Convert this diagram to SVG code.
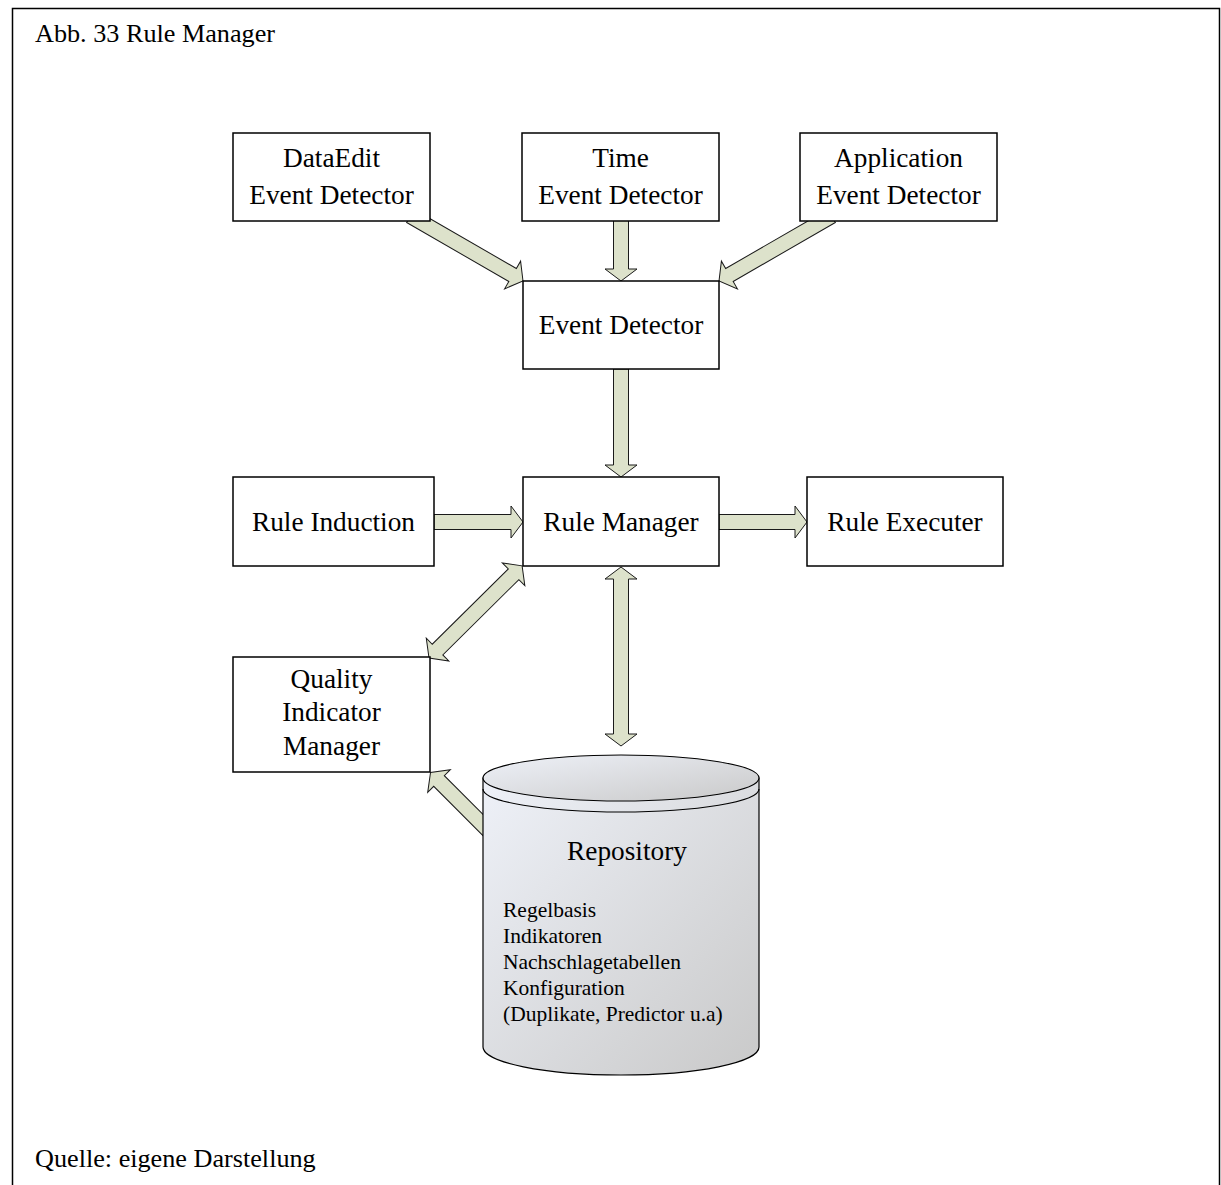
<svg xmlns="http://www.w3.org/2000/svg" width="1221" height="1185" viewBox="0 0 1221 1185">
<defs>
<linearGradient id="cyl" x1="0" y1="0" x2="1" y2="1">
<stop offset="0" stop-color="#eef1f8"/>
<stop offset="1" stop-color="#c9c9c9"/>
</linearGradient>
<style>
.box{fill:#fff;stroke:#000;stroke-width:1.5}
.arr{fill:#dde2cb;stroke:#1a1a1a;stroke-width:1}
.t{font-family:"Liberation Serif","Times New Roman",serif;font-size:27.3px;fill:#000;text-anchor:middle}
.cap{font-family:"Liberation Serif","Times New Roman",serif;font-size:26.2px;fill:#000}
.lst{font-family:"Liberation Serif","Times New Roman",serif;font-size:21.5px;fill:#000}
</style>
</defs>
<rect x="12.5" y="8.5" width="1207" height="1200" fill="#fff" stroke="#000" stroke-width="1.5"/>
<text class="cap" x="35" y="42">Abb. 33 Rule Manager</text>
<text class="cap" x="35" y="1167">Quelle: eigene Darstellung</text>

<g id="connectors">
<polygon class="arr" transform="translate(410.4,216) rotate(30)" points="0,-7.5 118,-7.5 118,-16 130,0 118,16 118,7.5 0,7.5"/>
<polygon class="arr" transform="translate(831.6,216) rotate(150)" points="0,-7.5 118,-7.5 118,-16 130,0 118,16 118,7.5 0,7.5"/>
<polygon class="arr" transform="translate(621,215) rotate(90)" points="0,-7.5 54,-7.5 54,-16 66,0 54,16 54,7.5 0,7.5"/>
<polygon class="arr" transform="translate(621,369) rotate(90)" points="0,-7.5 96,-7.5 96,-16 108,0 96,16 96,7.5 0,7.5"/>
<polygon class="arr" transform="translate(434,522)" points="0,-7.5 77,-7.5 77,-16 89,0 77,16 77,7.5 0,7.5"/>
<polygon class="arr" transform="translate(719,522)" points="0,-7.5 76,-7.5 76,-16 88,0 76,16 76,7.5 0,7.5"/>
<polygon class="arr" transform="translate(621,567) rotate(90)" points="0,0 12,-16 12,-7.5 167,-7.5 167,-16 179,0 167,16 167,7.5 12,7.5 12,16"/>
<polygon class="arr" transform="translate(429,658) rotate(-44.7)" points="0,0 12,-16 12,-7.5 119,-7.5 119,-16 131,0 119,16 119,7.5 12,7.5 12,16"/>
<polygon class="arr" transform="translate(497,839) rotate(-135)" points="0,-7.5 82,-7.5 82,-16 94,0 82,16 82,7.5 0,7.5"/>
</g>

<g id="dataedit"><rect class="box" x="233" y="133" width="197" height="88"/><text class="t" x="331.5" y="167">DataEdit</text><text class="t" x="331.5" y="204">Event Detector</text></g>
<g id="time"><rect class="box" x="522" y="133" width="197" height="88"/><text class="t" x="620.5" y="167">Time</text><text class="t" x="620.5" y="204">Event Detector</text></g>
<g id="application"><rect class="box" x="800" y="133" width="197" height="88"/><text class="t" x="898.5" y="167">Application</text><text class="t" x="898.5" y="204">Event Detector</text></g>
<g id="eventdetector"><rect class="box" x="523" y="281" width="196" height="88"/><text class="t" x="621" y="334">Event Detector</text></g>
<g id="ruleinduction"><rect class="box" x="233" y="477" width="201" height="89"/><text class="t" x="333.5" y="531">Rule Induction</text></g>
<g id="rulemanager"><rect class="box" x="523" y="477" width="196" height="89"/><text class="t" x="621" y="531">Rule Manager</text></g>
<g id="ruleexecuter"><rect class="box" x="807" y="477" width="196" height="89"/><text class="t" x="905" y="531">Rule Executer</text></g>
<g id="qim"><rect class="box" x="233" y="657" width="197" height="115"/><text class="t" x="331.5" y="688">Quality</text><text class="t" x="331.5" y="721">Indicator</text><text class="t" x="331.5" y="755">Manager</text></g>

<g id="repository">
<path d="M483,778 L483,1047 A138,28 0 0 0 759,1047 L759,778 Z" fill="url(#cyl)" stroke="#000" stroke-width="1.2"/>
<ellipse cx="621" cy="778" rx="138" ry="23" fill="url(#cyl)" stroke="#000" stroke-width="1.2"/>
<path d="M483,789 A138,23 0 0 0 759,789" fill="none" stroke="#000" stroke-width="1.2"/>
<text class="t" x="627" y="860">Repository</text>
<text class="lst" x="503" y="917">Regelbasis</text>
<text class="lst" x="503" y="943">Indikatoren</text>
<text class="lst" x="503" y="969">Nachschlagetabellen</text>
<text class="lst" x="503" y="995">Konfiguration</text>
<text class="lst" x="503" y="1021">(Duplikate, Predictor u.a)</text>
</g>
</svg>
